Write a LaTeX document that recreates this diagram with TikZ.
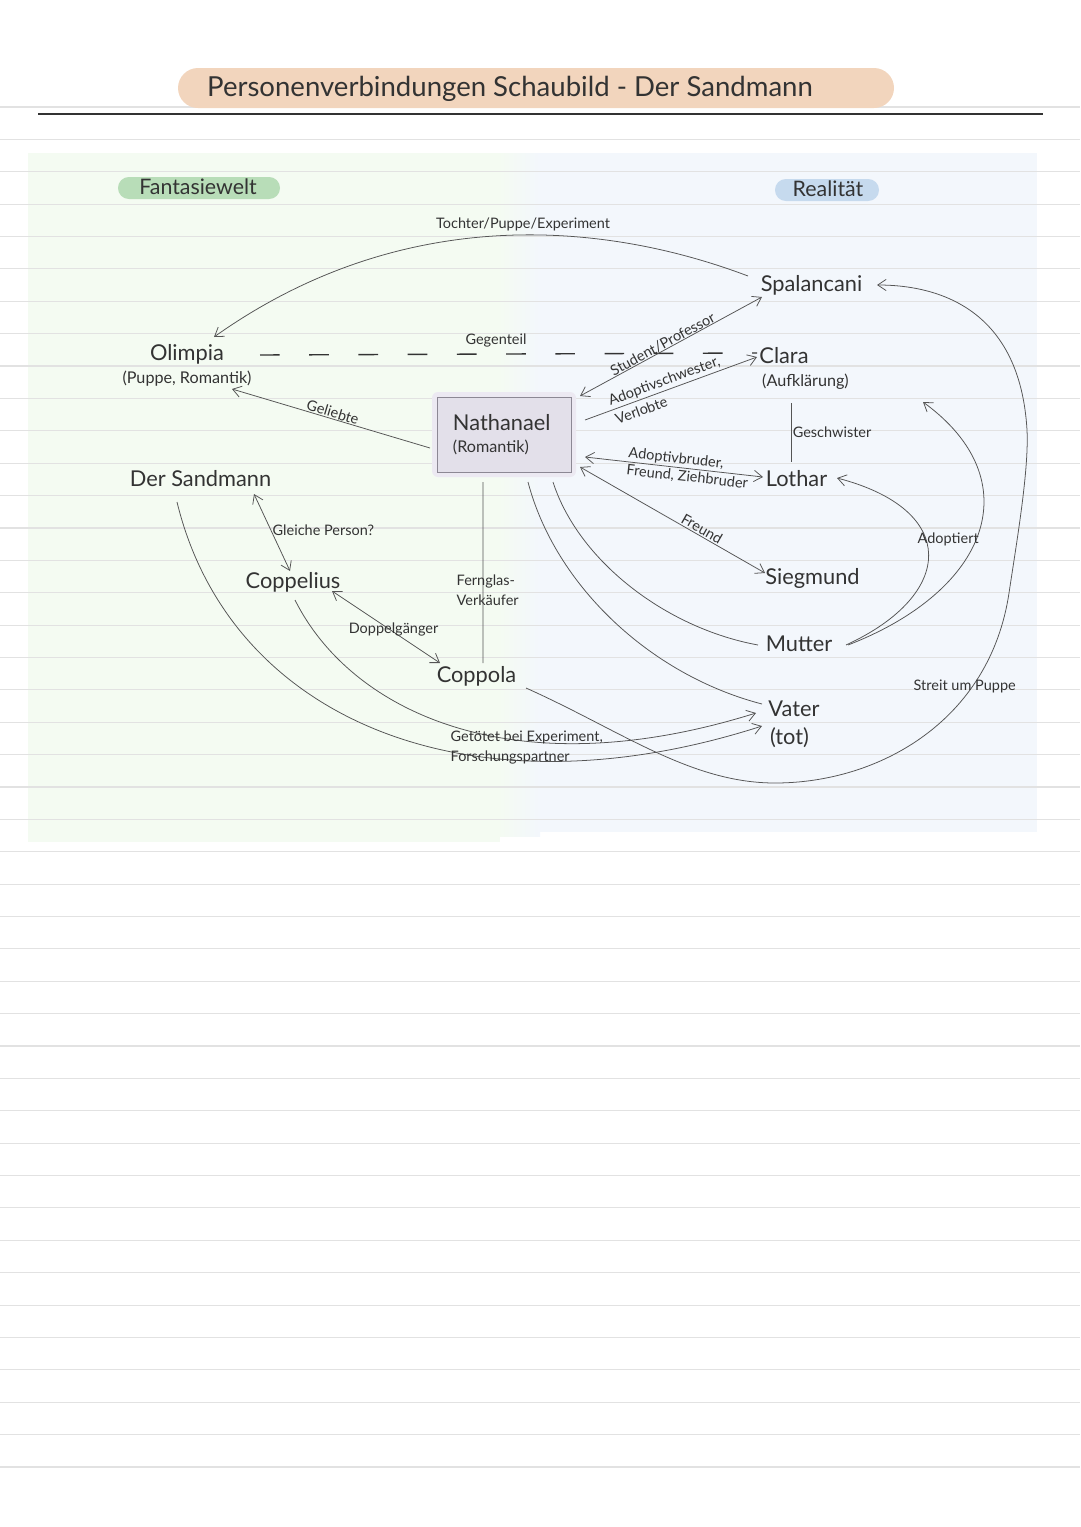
\documentclass[tikz,border=0pt]{standalone}
\usepackage{fontspec}
\setmainfont{Lato}
\usetikzlibrary{arrows.meta}
\definecolor{ink}{HTML}{333333}
\definecolor{wire}{HTML}{555555}
\definecolor{rule}{HTML}{E2E2E2}
\definecolor{titlepill}{HTML}{F2D5BD}
\definecolor{fantasypill}{HTML}{B8DDB8}
\definecolor{realpill}{HTML}{C6DAEE}
\definecolor{fantasybg}{HTML}{F4FBF2}
\definecolor{realbg}{HTML}{F3F7FC}
\definecolor{boxfill}{HTML}{E3E0EA}
\definecolor{boxline}{HTML}{8C8894}
\definecolor{boxglow}{HTML}{ECE9F2}
\tikzset{
  person/.style={font=\fontsize{15.5}{18}\selectfont, text=ink, inner sep=1pt, anchor=mid},
  subline/.style={font=\fontsize{11.5}{13.5}\selectfont, text=ink, inner sep=1pt, anchor=mid},
  rel/.style={font=\fontsize{10.3}{12.5}\selectfont, text=ink, inner sep=1pt},
  link/.style={draw=wire, line width=0.55pt},
  pilltext/.style={font=\fontsize{15.2}{17}\selectfont, text=ink, anchor=mid}
}
\begin{document}
\begin{tikzpicture}[x=0.025cm, y=-0.025cm, >={Straight Barb[length=6pt,width=8pt]}]
\useasboundingbox (0,0) rectangle (1080,1527);
\fill[fantasybg] (28,153) rectangle (500,842);
\shade[left color=fantasybg, right color=realbg] (498,153) rectangle (540,836);
\fill[realbg] (538,153) rectangle (1037,832);
\foreach \k in {0,...,42}
  \draw[rule, line width=0.8pt] (0,{107+32.38*\k}) -- (1080,{107+32.38*\k});
\draw[ink, line width=1.1pt] (38,114) -- (1043,114);

\fill[titlepill, rounded corners=0.5cm] (178,68) rectangle (894,108);
\node[font=\fontsize{19.6}{22}\selectfont, text=ink, anchor=mid] (title) at (510,93) {Personenverbindungen Schaubild - Der Sandmann};
\fill[fantasypill, rounded corners=0.27cm] (118,177) rectangle (280,199);
\node[pilltext] (fantasy) at (198,191) {Fantasiewelt};
\fill[realpill, rounded corners=0.27cm] (775,179) rectangle (879,201);
\node[pilltext] (reality) at (828,193) {Realität};

\fill[boxglow, rounded corners=0.15cm] (432,392) rectangle (576,477);
\node[draw=boxline, fill=boxfill, line width=0.5pt, minimum width=3.35cm, minimum height=1.875cm,
  inner xsep=0.4cm, text width=2.55cm, align=left, text=ink] (nathanael) at (504,434.5)
  {{\fontsize{15.5}{18}\selectfont Nathanael}\\[4pt]{\fontsize{11.5}{13}\selectfont (Romantik)}};

\node[person] (olimpia) at (187,357) {Olimpia};
\node[subline] (olimpiasub) at (187,380) {(Puppe, Romantik)};
\node[person] (sandmann) at (200.5,483) {Der Sandmann};
\node[person] (coppelius) at (293,585) {Coppelius};
\node[person] (coppola) at (476.5,679) {Coppola};
\node[person] (spalancani) at (811.5,288) {Spalancani};
\node[person] (clara) at (784,360) {Clara};
\node[subline] (clarasub) at (805.5,383) {(Aufklärung)};
\node[person] (lothar) at (796.5,483) {Lothar};
\node[person] (siegmund) at (812.5,581) {Siegmund};
\node[person] (mutter) at (799,648) {Mutter};
\node[person] (vater) at (794,713) {Vater};
\node[person] (vatersub) at (789.5,741) {(tot)};

\draw[link,->] ([shift={(-63.5,-12)}]spalancani.mid) .. controls (600,220) and (400,205) .. ([shift={(27,-20)}]olimpia.mid);
\node[rel] (tochterlabel) at (523,224) {Tochter/Puppe/Experiment};

\draw[draw=ink, line width=1pt, dash pattern=on 14pt off 21pt] ([shift={(73,-2)}]olimpia.mid) -- ([shift={(-27,-7)}]clara.mid);
\node[rel] (gegenteillabel) at (496,340) {Gegenteil};

\draw[link,<-] ([shift={(45,9)}]olimpiasub.mid) -- node[rel, sloped, above, inner sep=0.5pt] {Geliebte} ([shift={(-74,13.5)}]nathanael.center);
\draw[link,<->] ([shift={(76,-38.5)}]nathanael.center) -- node[rel, sloped, above, inner sep=0pt, pos=.47] {Student/Professor} ([shift={(-49.5,9)}]spalancani.mid);
\draw[link,->] ([shift={(81,-14.5)}]nathanael.center) -- node[rel, sloped, align=left, pos=.48] {Adoptivschwester,\\[2pt]Verlobte} ([shift={(-27,-3)}]clara.mid);
\draw[link] ([shift={(-14.5,20)}]clarasub.mid) -- node[rel, right] {Geschwister} ([shift={(-5.5,-21)}]lothar.mid);
\draw[link,<->] ([shift={(81,22.5)}]nathanael.center) -- node[rel, sloped, align=left, pos=.58] {Adoptivbruder,\\Freund, Ziehbruder} ([shift={(-33.5,-6)}]lothar.mid);
\draw[link,<->] ([shift={(76,32.5)}]nathanael.center) -- node[rel, sloped, above, pos=.64] {Freund} ([shift={(-47.5,-8)}]siegmund.mid);
\draw[link] ([shift={(49,47.5)}]nathanael.center) .. controls (578,560) and (665,628) .. ([shift={(-41,-3)}]mutter.mid);
\draw[link] ([shift={(24,47.5)}]nathanael.center) .. controls (555,585) and (650,675) .. ([shift={(-32,-9)}]vater.mid);
\draw[link] ([shift={(-21,47.5)}]nathanael.center) -- ([shift={(6.5,-16)}]coppola.mid);
\node[rel, anchor=west, align=left] (fernglaslabel) at (455,590) {Fernglas-\\[1.5pt]Verkäufer};

\draw[link,<->] ([shift={(53.5,11)}]sandmann.mid) -- node[rel, right, pos=.47] {Gleiche Person?} ([shift={(-3,-14)}]coppelius.mid);
\draw[link,<->] ([shift={(39,6)}]coppelius.mid) -- node[rel, pos=.57, above=-4pt] {Doppelgänger} ([shift={(-36.5,-16)}]coppola.mid);

\draw[link,->] ([shift={(-23.5,19)}]sandmann.mid) .. controls (230,720) and (470,820) .. ([shift={(-27.5,-15)}]vatersub.mid);
\draw[link,->] ([shift={(2,15)}]coppelius.mid) .. controls (350,710) and (510,790) .. ([shift={(-38,0)}]vater.mid);
\node[rel, anchor=west, align=left] (getoetetlabel) at (449,747.5) {Getötet bei Experiment,\\[1.5pt]Forschungspartner};

\draw[link,->] ([shift={(47,-3)}]mutter.mid) .. controls (955,595) and (960,510) .. ([shift={(40.5,-5)}]lothar.mid);
\draw[link,->] ([shift={(49,-3)}]mutter.mid) .. controls (990,590) and (1030,480) .. ([shift={(117.5,19)}]clarasub.mid);
\node[rel, anchor=west] (adoptiertlabel) at (916,539) {Adoptiert};

\draw[link,->] ([shift={(49.5,9)}]coppola.mid) .. controls (620,730) and (690,783) .. (775,783)
  .. controls (880,783) and (990,720) .. (1009,593)
  .. controls (1017,540) and (1029,470) .. (1027,430)
  .. controls (1020,310) and (940,285) .. ([shift={(65.5,-3)}]spalancani.mid);
\node[rel, anchor=west] (streitlabel) at (912,686) {Streit um Puppe};
\end{tikzpicture}
\end{document}
